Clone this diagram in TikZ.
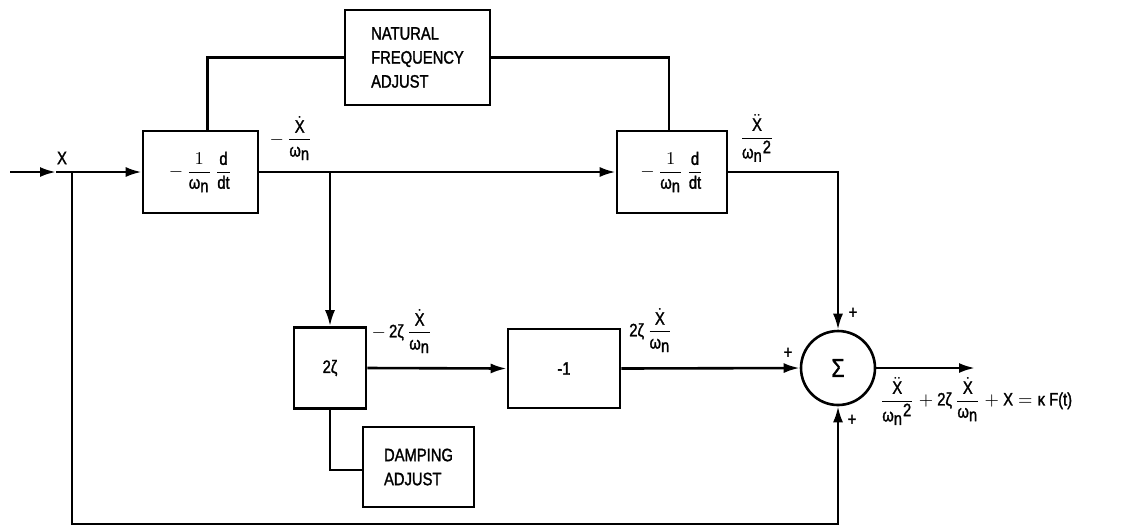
\documentclass[tikz,border=0pt]{standalone}
\usepackage{amsmath}
\usepackage{fontspec}
\setmainfont{Liberation Sans}[FakeStretch=0.82,FakeBold=1.5]
\usepackage{tikz}
\usetikzlibrary{arrows.meta}
\tikzstyle{block}=[
        draw,
        line width=1.3pt,
        inner sep=2pt,
        align=center
]
\tikzstyle{flow}=[
        -{Latex[length=8pt,width=5pt]}
]
\newcommand{\wn}{\text{ω}_{\mbox{n}}}
\newcommand{\wnsq}{\text{ω}_{\mbox{n}}{}^{\mbox{2}}}
\newcommand{\Xd}{\dot{\text{X}}}
\newcommand{\Xdd}{\ddot{\text{X}}}
\newcommand{\zt}{\text{2ζ}}

\begin{document}
\begin{tikzpicture}[x=0.5pt,y=-0.5pt,line width=1.3pt,font=\fontsize{9}{12}\selectfont]
                        \useasboundingbox (0,0) rectangle (1127,526);

                        % blocks
                        \node[block,minimum width=72.5pt,minimum height=47.5pt,align=left] (nfa) at (417.5,57.5) {NATURAL\\FREQUENCY\\ADJUST};
                        \node[block,minimum width=57.5pt,minimum height=41pt] (d1) at (200.5,172) {$-\,\dfrac{1}{\wn}\,\dfrac{\text{d}}{\text{dt}}$};
                        \node[block,minimum width=55pt,minimum height=41pt] (d2) at (672,172) {$-\,\dfrac{1}{\wn}\,\dfrac{\text{d}}{\text{dt}}$};
                        \node[block,minimum width=36pt,minimum height=40.5pt] (damp) at (330,368) {2ζ};
                        \node[block,minimum width=56pt,minimum height=39.5pt] (inv) at (564,368.5) {-1};
                        \node[block,minimum width=55.5pt,minimum height=40pt,align=left] (dadj) at (418.5,467) {DAMPING\\ADJUST};
                        \node[block,circle,minimum size=37pt,inner sep=0pt] (sum) at (838,368) {\fontsize{13}{13}\selectfont Σ};

                        % points on the lines
                        \coordinate (in) at (10,172);
                        \coordinate (xtip) at (56,172);
                        \coordinate (xbr) at (72,172);
                        \coordinate (loop) at (72,524);
                        \coordinate (vbr) at (330,172);
                        \coordinate (out) at (975,368);

                        % connectors
                        \draw[flow] (in) -- (xtip);
                        \draw[flow] (xtip) -- (d1.west);
                        \draw[flow] (xbr) -- (loop) -| (sum.south);
                        \draw ([xshift=3.5pt]d1.north) |- (nfa.west);
                        \draw (nfa.east) -| ([xshift=-1.5pt]d2.north);
                        \draw[flow] (d1.east) -- (d2.west);
                        \draw[flow] (vbr) -- (damp.north);
                        \draw[flow] (d2.east) -| (sum.north);
                        \draw[flow] (damp.east) -- (inv.west);
                        \draw[flow] (inv.east) -- (sum.west);
                        \draw[flow] (sum.east) -- (out);
                        \draw (damp.south) |- ([yshift=-1.5pt]dadj.west);

                        % signal labels
                        \node (lx) at (62,158) {X};
                        \node (lxd) at (291,138) {$-\,\dfrac{\Xd}{\wn}$};
                        \node (lxdd) at (757,138) {$\dfrac{\Xdd}{\wnsq}$};
                        \node (ldmp) at (402,331) {$-\,\zt\,\dfrac{\Xd}{\wn}$};
                        \node (linv) at (651,330) {$\zt\,\dfrac{\Xd}{\wn}$};
                        \node (pt) at (853,313) {+};
                        \node (pl) at (788,353) {+};
                        \node (pb) at (852,420) {+};
                        \node (lout) at (976,401) {$\dfrac{\Xdd}{\wnsq}+\zt\,\dfrac{\Xd}{\wn}+\text{X}=\text{κ F(t)}$};

                    \end{tikzpicture}
\end{document}
